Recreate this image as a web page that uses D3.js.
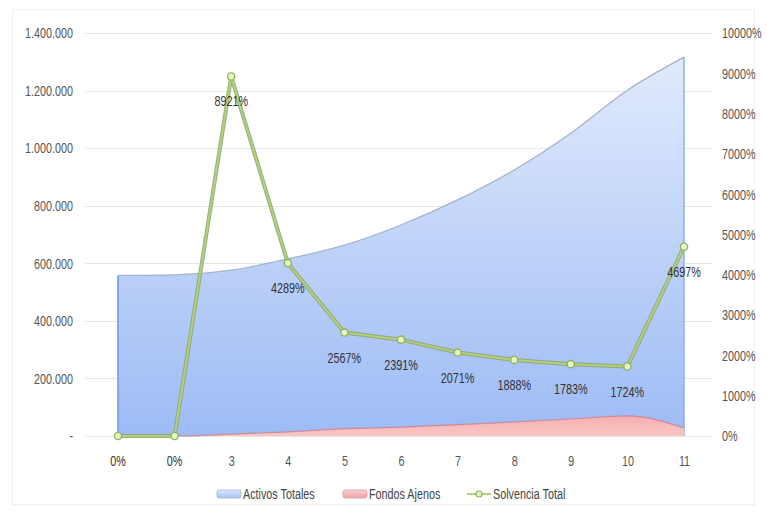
<!DOCTYPE html>
<html>
<head>
<meta charset="utf-8">
<script src="https://cdn.jsdelivr.net/npm/d3@7"></script>
<style>
  html, body { margin: 0; padding: 0; background: #fff; }
  svg { display: block; font-family: "Liberation Sans", Arial, sans-serif; }
</style>
</head>
<body>
<svg id="chart" width="767" height="513"></svg>
<script>
// Years of the projection
const categories = ["1", "2", "3", "4", "5", "6", "7", "8", "9", "10", "11"];
// Total assets (left axis)
const activosTotales = [558000, 560000, 576000, 615000, 663000, 733000, 820000, 924000, 1052000, 1201000, 1316000];
// External funds (left axis)
const fondosAjenos = [0, 0, 6500, 14300, 25800, 30700, 39600, 48900, 59000, 69700, 28000];
// Total solvency in percent (right axis)
const solvenciaTotal = [0, 0, 8921, 4289, 2567, 2391, 2071, 1888, 1783, 1724, 4697];
// Axis ticks
const leftTicks = [0, 200000, 400000, 600000, 800000, 1000000, 1200000, 1400000];
const rightTicks = [0, 1000, 2000, 3000, 4000, 5000, 6000, 7000, 8000, 9000, 10000];
const seriesNames = ["Activos Totales", "Fondos Ajenos", "Solvencia Total"];

const FONT_SIZE = 15;
const NARROW = 0.72;

const svg = d3.select("#chart");
const locale = d3.formatLocale({ decimal: ",", thousands: ".", grouping: [3], currency: ["", ""] });
const fmtThousands = locale.format(",");

// Condensed look: squeeze text horizontally around its anchor point
function narrow(sel) {
  sel.attr("font-size", FONT_SIZE).attr("font-family", "inherit")
    .attr("transform", function () {
      const xa = +this.getAttribute("x") || 0;
      return `translate(${xa},0) scale(${NARROW},1) translate(${-xa},0)`;
    });
}

const x = d3.scalePoint().domain(categories).range([118, 684]);
const yL = d3.scaleLinear().domain([0, 1400000]).range([436, 33]);
const yR = d3.scaleLinear().domain([0, 10000]).range([436, 33]);

// Frame
svg.append("rect").attr("x", 12.5).attr("y", 9.5).attr("width", 742).attr("height", 495)
  .attr("fill", "none").attr("stroke", "#efefef");

// Gradients
const defs = svg.append("defs");
const gBlue = defs.append("linearGradient").attr("id", "gBlue").attr("x1", 0).attr("x2", 0)
  .attr("gradientUnits", "userSpaceOnUse").attr("y1", 50).attr("y2", 436);
gBlue.append("stop").attr("offset", 0).attr("stop-color", "#e2ebfc");
gBlue.append("stop").attr("offset", 1).attr("stop-color", "#9dbbf5");
const gPink = defs.append("linearGradient").attr("id", "gPink").attr("x1", 0).attr("x2", 0)
  .attr("gradientUnits", "userSpaceOnUse").attr("y1", 412).attr("y2", 436);
gPink.append("stop").attr("offset", 0).attr("stop-color", "#f5a9ac");
gPink.append("stop").attr("offset", 1).attr("stop-color", "#fbc6c4");
const gBlueLeg = defs.append("linearGradient").attr("id", "gBlueLeg").attr("x1", 0).attr("x2", 0).attr("y1", 0).attr("y2", 1);
gBlueLeg.append("stop").attr("offset", 0).attr("stop-color", "#dfe9fc");
gBlueLeg.append("stop").attr("offset", 1).attr("stop-color", "#a6c2f5");
const gPinkLeg = defs.append("linearGradient").attr("id", "gPinkLeg").attr("x1", 0).attr("x2", 0).attr("y1", 0).attr("y2", 1);
gPinkLeg.append("stop").attr("offset", 0).attr("stop-color", "#fbd0d0");
gPinkLeg.append("stop").attr("offset", 1).attr("stop-color", "#f3a3a6");

// Gridlines
svg.append("g").selectAll("line").data(leftTicks).join("line")
  .attr("x1", 85).attr("x2", 713)
  .attr("y1", d => Math.round(yL(d)) + 0.5).attr("y2", d => Math.round(yL(d)) + 0.5)
  .attr("stroke", "#e6e6e6").attr("stroke-width", 1);

// Left axis
const axL = svg.append("g").attr("transform", "translate(85,0)")
  .call(d3.axisLeft(yL).tickValues(leftTicks).tickSize(0).tickPadding(12)
    .tickFormat(d => d === 0 ? "-" : fmtThousands(d)));
axL.select(".domain").remove();
axL.selectAll("text").attr("fill", "#555").call(narrow);

// Right axis
const axR = svg.append("g").attr("transform", "translate(713,0)")
  .call(d3.axisRight(yR).tickValues(rightTicks).tickSize(0).tickPadding(9)
    .tickFormat(d => d + "%"));
axR.select(".domain").remove();
axR.selectAll("text").attr("fill", "#555").call(narrow);

// Bottom axis (the first two positions carry the 0% value labels instead)
const axB = svg.append("g").attr("transform", "translate(0,436)")
  .call(d3.axisBottom(x).tickSize(0).tickPadding(19)
    .tickFormat((d, i) => solvenciaTotal[i] === 0 ? "" : d));
axB.select(".domain").remove();
axB.selectAll("text").attr("fill", "#555").call(narrow);

// Areas
const areaA = d3.area().x((d, i) => x(categories[i])).y0(yL(0)).y1(d => yL(d)).curve(d3.curveMonotoneX);
svg.append("path").datum(activosTotales).attr("d", areaA).attr("fill", "url(#gBlue)");
const topA = d3.line().x((d, i) => x(categories[i])).y(d => yL(d)).curve(d3.curveMonotoneX);
svg.append("path").datum(activosTotales).attr("d", topA).attr("fill", "none").attr("stroke", "#a3b3cd").attr("stroke-width", 1.3);
// side edges of the blue area
[0, categories.length - 1].forEach(i => {
  svg.append("line").attr("x1", x(categories[i])).attr("x2", x(categories[i]))
    .attr("y1", yL(activosTotales[i])).attr("y2", yL(0))
    .attr("stroke", i === 0 ? "#6f95dc" : "#8fb0e8").attr("stroke-width", 1.5);
});

const areaF = d3.area().x((d, i) => x(categories[i])).y0(yL(0)).y1(d => yL(d)).curve(d3.curveMonotoneX);
svg.append("path").datum(fondosAjenos).attr("d", areaF).attr("fill", "url(#gPink)");
svg.append("path").datum(fondosAjenos).attr("d", topA).attr("fill", "none").attr("stroke", "#c98c9e").attr("stroke-width", 1.2);

// Solvency line
const lineS = d3.line().x((d, i) => x(categories[i])).y(d => yR(d));
svg.append("path").datum(solvenciaTotal).attr("d", lineS).attr("fill", "none")
  .attr("stroke", "#8aa66a").attr("stroke-width", 4).attr("stroke-linejoin", "round").attr("opacity", 0.9);
svg.append("path").datum(solvenciaTotal).attr("d", lineS).attr("fill", "none")
  .attr("stroke", "#b5cf7e").attr("stroke-width", 2).attr("stroke-linejoin", "round");
svg.append("g").selectAll("circle").data(solvenciaTotal).join("circle")
  .attr("cx", (d, i) => x(categories[i])).attr("cy", d => yR(d)).attr("r", 3.6)
  .attr("fill", "#e9f5c7").attr("stroke", "#8fb35a").attr("stroke-width", 1.4);

// Data labels, centred about 25px under each point
svg.append("g").selectAll("text").data(solvenciaTotal).join("text")
  .attr("x", (d, i) => x(categories[i]))
  .attr("y", d => yR(d) + 30)
  .attr("text-anchor", "middle").attr("fill", "#333")
  .text(d => d + "%")
  .call(narrow);

// Legend
const leg = svg.append("g");
const legItems = [
  { name: seriesNames[0], x: 217, type: "area", fill: "url(#gBlueLeg)", stroke: "#9fb6dc" },
  { name: seriesNames[1], x: 343, type: "area", fill: "url(#gPinkLeg)", stroke: "#d59aa3" },
  { name: seriesNames[2], x: 467, type: "line" }
];
legItems.forEach(it => {
  if (it.type === "area") {
    leg.append("rect").attr("x", it.x).attr("y", 490).attr("width", 24).attr("height", 8).attr("rx", 2)
      .attr("fill", it.fill).attr("stroke", it.stroke).attr("stroke-width", 0.8);
  } else {
    leg.append("line").attr("x1", it.x).attr("x2", it.x + 24).attr("y1", 494).attr("y2", 494)
      .attr("stroke", "#b5cf7e").attr("stroke-width", 2);
    leg.append("circle").attr("cx", it.x + 12).attr("cy", 494).attr("r", 3)
      .attr("fill", "#e9f5c7").attr("stroke", "#8fb35a").attr("stroke-width", 1.2);
  }
  leg.append("text").attr("x", it.x + 26).attr("y", 499).attr("fill", "#444").text(it.name).call(narrow);
});
</script>
</body>
</html>
